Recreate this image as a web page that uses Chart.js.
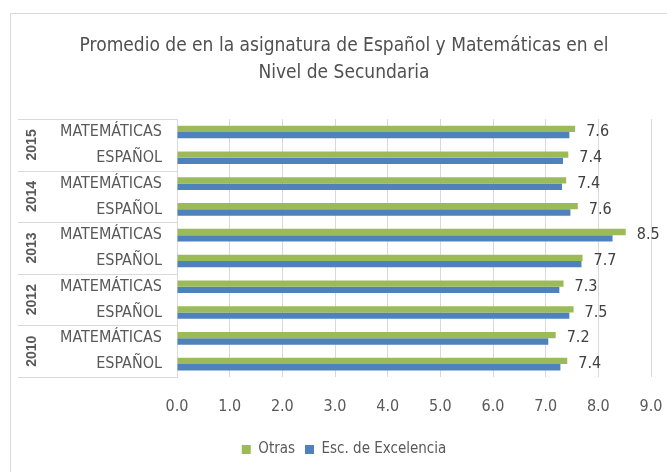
<!DOCTYPE html>
<html>
<head>
<meta charset="utf-8">
<script src="https://cdn.jsdelivr.net/npm/chart.js@4"></script>
<style>
  body { margin: 0; background: #fff; }
  #wrap { position: relative; width: 667px; height: 472px; overflow: hidden; }
  #frame { position: absolute; left: 10px; top: 13px; width: 700px; height: 500px; border: 1px solid #d9d9d9; pointer-events: none; }
</style>
</head>
<body>
<div id="wrap">
  <canvas id="chart" width="667" height="472"></canvas>
  <div id="frame"></div>
</div>
<script>
const years = ["2015", "2014", "2013", "2012", "2010"];
const subjects = ["MATEMÁTICAS", "ESPAÑOL"];
const otras = [7.56, 7.43, 7.39, 7.61, 8.52, 7.70, 7.34, 7.53, 7.19, 7.41];
const excelencia = [7.45, 7.33, 7.31, 7.47, 8.27, 7.68, 7.26, 7.45, 7.05, 7.28];
const xTicks = [0, 1, 2, 3, 4, 5, 6, 7, 8, 9];

const FONT = "'Liberation Sans Narrow', 'DejaVu Sans Condensed', sans-serif";
const GREY = "#595959";
const LINE = "#d9d9d9";

// one row per year/subject pair, top to bottom
const labels = [];
years.forEach(() => subjects.forEach((s) => labels.push(s)));

// year column + group separators in the label area
const groupPlugin = {
  id: "groups",
  afterDraw(chart) {
    const ctx = chart.ctx;
    const y = chart.scales.y;
    const area = chart.chartArea;
    const step = (area.bottom - area.top) / labels.length;
    ctx.save();
    ctx.strokeStyle = LINE;
    ctx.lineWidth = 1;
    for (let g = 0; g <= years.length; g++) {
      const py = Math.round(area.top + g * subjects.length * step) + 0.5;
      ctx.beginPath();
      ctx.moveTo(18, py);
      ctx.lineTo(area.left, py);
      ctx.stroke();
    }
    ctx.fillStyle = GREY;
    ctx.font = "bold 14px 'Liberation Sans', sans-serif";
    ctx.textAlign = "center";
    ctx.textBaseline = "middle";
    years.forEach((yr, g) => {
      const a = y.getPixelForValue(g * subjects.length);
      const b = y.getPixelForValue(g * subjects.length + subjects.length - 1);
      ctx.save();
      ctx.translate(32, (a + b) / 2);
      ctx.rotate(-Math.PI / 2);
      ctx.fillText(yr, 0, 0);
      ctx.restore();
    });
    ctx.restore();
  },
};

// value labels for the "Otras" series
const valuePlugin = {
  id: "values",
  afterDatasetsDraw(chart) {
    const ctx = chart.ctx;
    const meta = chart.getDatasetMeta(0);
    const y = chart.scales.y;
    ctx.save();
    ctx.fillStyle = "#404040";
    ctx.font = "16px " + FONT;
    ctx.textAlign = "left";
    ctx.textBaseline = "middle";
    meta.data.forEach((bar, i) => {
      ctx.fillText(otras[i].toFixed(1), bar.x + 11, y.getPixelForValue(i));
    });
    ctx.restore();
  },
};

new Chart(document.getElementById("chart"), {
  type: "bar",
  data: {
    labels: labels,
    datasets: [
      {
        label: "Otras",
        data: otras,
        backgroundColor: "#9bbb59",
        categoryPercentage: 0.49,
        barPercentage: 1.0,
      },
      {
        label: "Esc. de Excelencia",
        data: excelencia,
        backgroundColor: "#4f81bd",
        categoryPercentage: 0.49,
        barPercentage: 1.0,
      },
    ],
  },
  options: {
    indexAxis: "y",
    responsive: false,
    animation: false,
    layout: { padding: { top: 0, left: 37, right: 16, bottom: 5 } },
    plugins: {
      title: {
        display: true,
        text: [
          "Promedio de en la asignatura de Español y Matemáticas en el",
          "Nivel de Secundaria",
        ],
        color: "#505050",
        font: { family: FONT, size: 19, weight: "normal", lineHeight: 1.45 },
        padding: { top: 32, bottom: 32 },
      },
      legend: {
        position: "bottom",
        labels: {
          color: GREY,
          font: { family: FONT, size: 15 },
          boxWidth: 9,
          boxHeight: 9,
          padding: 10,
        },
      },
      tooltip: { enabled: false },
    },
    scales: {
      x: {
        min: 0,
        max: 9,
        afterBuildTicks: (scale) => {
          scale.ticks = xTicks.map((v) => ({ value: v }));
        },
        afterFit: (scale) => {
          scale.height = 55;
          scale.paddingLeft = 0;
          scale.paddingRight = 0;
        },
        grid: { color: LINE, drawTicks: false },
        border: { display: false },
        ticks: {
          color: GREY,
          font: { family: FONT, size: 16 },
          padding: 20,
          callback: (v) => Number(v).toFixed(1),
        },
      },
      y: {
        afterFit: (scale) => {
          scale.width = 140;
        },
        grid: { display: false, drawTicks: false },
        border: { display: true, color: LINE },
        ticks: {
          color: GREY,
          font: { family: FONT, size: 16 },
          padding: 15,
        },
      },
    },
  },
  plugins: [groupPlugin, valuePlugin],
});
</script>
</body>
</html>
